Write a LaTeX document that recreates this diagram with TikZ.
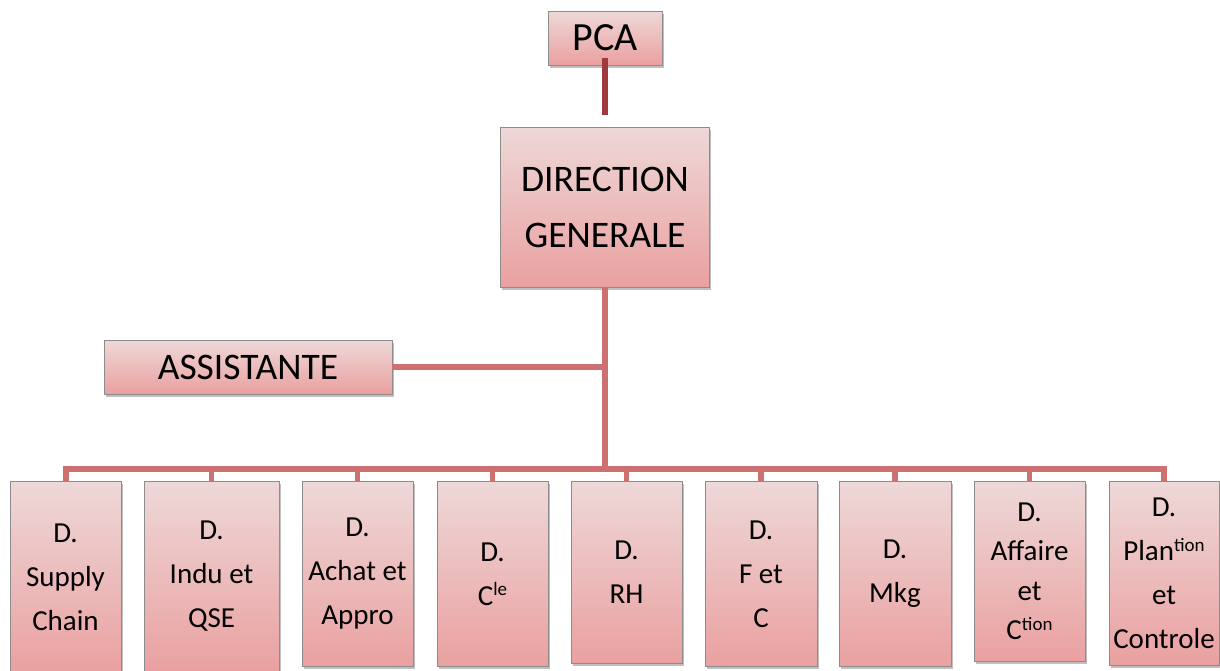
\documentclass[tikz,border=0pt]{standalone}
\usepackage{fontspec}
\setmainfont{Carlito}
\usetikzlibrary{shadows}
\definecolor{linkred}{RGB}{204,112,114}
\definecolor{linkdark}{RGB}{158,58,62}
\definecolor{boxtop}{RGB}{238,216,216}
\definecolor{boxbot}{RGB}{234,160,160}
\definecolor{boxedge}{RGB}{140,140,140}
% small raised letters for abbreviations such as C^le
\newcommand\supx[1]{\raisebox{0.33em}{\fontsize{19}{19}\selectfont #1}}
\begin{document}
\begin{tikzpicture}[x=1pt,y=-1pt,
  orgbox/.style={draw=boxedge, line width=0.8pt, top color=boxtop, bottom color=boxbot,
    inner sep=0pt, align=center,
    drop shadow={shadow xshift=1.5pt, shadow yshift=-2.5pt, opacity=0.25, fill=black}},
  bigtext/.style={font=\fontsize{37.5}{56}\selectfont},
  deptbox/.style={orgbox, anchor=north, font=\fontsize{29}{44}\selectfont},
  link/.style={draw=linkred, line width=5.5pt}]
\useasboundingbox (0,0) rectangle (1220,670);

% top of the chart
\node[orgbox, font=\fontsize{40}{40}\selectfont, minimum width=114pt, minimum height=54pt] (pca) at (605,38) {PCA};
\node[orgbox, bigtext, minimum width=209pt, minimum height=160pt] (dg) at (605,207) {DIRECTION\\GENERALE};
\node[orgbox, bigtext, minimum width=288pt, minimum height=54pt] (assist) at (248,367) {ASSISTANTE};

% departments
\node[deptbox, minimum width=111pt, minimum height=192pt] (b1) at (65.5,481) {D.\\Supply\\Chain};
\node[deptbox, minimum width=135pt, minimum height=190pt] (b2) at (211.5,481) {D.\\Indu et\\QSE};
\node[deptbox, minimum width=111pt, minimum height=185pt] (b3) at (357.5,481) {D.\\Achat et\\Appro};
\node[deptbox, minimum width=111pt, minimum height=185pt] (b4) at (492.5,481) {D.\\C\supx{le}};
\node[deptbox, minimum width=111pt, minimum height=182pt] (b5) at (626.5,481) {D.\\RH};
\node[deptbox, minimum width=112pt, minimum height=185pt] (b6) at (761,481) {D.\\F et\\C};
\node[deptbox, minimum width=112pt, minimum height=185pt] (b7) at (895,481) {D.\\Mkg};
\node[deptbox, font=\fontsize{29}{39.5}\selectfont, minimum width=111pt, minimum height=180pt] (b8) at (1029.5,481) {D.\\Affaire\\et\\C\supx{tion}};
\node[deptbox, minimum width=110pt, minimum height=184pt] (b9) at (1164,481) {D.\\Plan\supx{tion}\\et\\Controle};

% junction points
\coordinate (pcaend) at (605,115);
\coordinate (bus) at (605,469);
\coordinate (asj) at (605,367);

% connectors
\draw[draw=linkdark, line width=6pt] ([yshift=7pt]pca.south) -- (pcaend);
\draw[link, line width=6pt] (dg.south) -- (bus);
\draw[link] (assist.east) -- (asj);
\draw[link, line width=6pt, line join=miter] (b1.north) -- (b1.north |- bus) -- (b9.north |- bus) -- (b9.north);
\foreach \b in {b2,b3,b4,b5,b6,b7,b8}
  \draw[link] (\b.north |- bus) -- (\b.north);
\end{tikzpicture}
\end{document}
